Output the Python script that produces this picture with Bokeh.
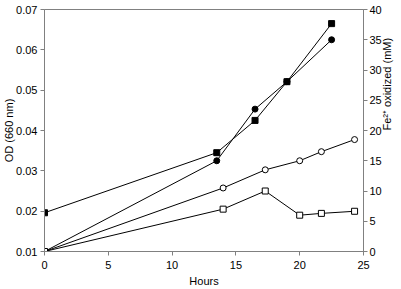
import math
from bokeh.plotting import figure
from bokeh.models import Range1d, LinearAxis, FixedTicker, CustomJSTickFormatter
from bokeh.embed import file_html
from bokeh.resources import INLINE

# OD (660 nm), left axis
od_sq_hours = [0, 13.5, 16.5, 19.0, 22.5]
od_sq_vals = [0.0196, 0.0345, 0.0425, 0.0521, 0.0665]
od_ci_hours = [0, 13.5, 16.5, 19.0, 22.5]
od_ci_vals = [0.0100, 0.0325, 0.0453, 0.0521, 0.0625]

# Fe2+ oxidized (mM), right axis
fe_ci_hours = [0, 14.0, 17.3, 20.0, 21.7, 24.3]
fe_ci_vals = [0.0, 10.5, 13.5, 15.0, 16.5, 18.5]
fe_sq_hours = [0, 14.0, 17.3, 20.0, 21.7, 24.3]
fe_sq_vals = [0.0, 7.0, 10.0, 6.0, 6.3, 6.65]

x_ticks = [0, 5, 10, 15, 20, 25]
od_ticks = [0.01, 0.02, 0.03, 0.04, 0.05, 0.06, 0.07]
fe_ticks = [0, 5, 10, 15, 20, 25, 30, 35, 40]

x_label = "Hours"
left_label = "OD (660 nm)"
right_label = "Fe²⁺ oxidized (mM)"

FONT = "Liberation Sans"
AX = "#808080"

p = figure(width=401, height=289, output_backend="svg", toolbar_location=None,
           x_range=Range1d(0, 25), y_range=Range1d(0.01, 0.07),
           min_border_left=44, min_border_right=36, min_border_top=9, min_border_bottom=37)
p.extra_y_ranges = {"fe": Range1d(0, 40)}
p.grid.visible = False
p.outline_line_color = AX
p.background_fill_color = "white"
p.border_fill_color = "white"

p.xaxis.ticker = FixedTicker(ticks=x_ticks)
p.yaxis.ticker = FixedTicker(ticks=od_ticks)
p.yaxis.formatter = CustomJSTickFormatter(code="return tick.toFixed(2);")
p.xaxis.axis_label = x_label
p.yaxis.axis_label = left_label

ra = LinearAxis(y_range_name="fe", ticker=FixedTicker(ticks=fe_ticks), axis_label=right_label)
p.add_layout(ra, "right")
if "axis_label_orientation" in ra.properties():
    ra.axis_label_orientation = math.pi / 2

for ax in [p.xaxis[0], p.yaxis[0], ra]:
    ax.axis_line_color = AX
    ax.major_tick_line_color = AX
    ax.minor_tick_line_color = None
    ax.major_tick_in = 0
    ax.major_tick_out = 4
    ax.major_label_text_font = FONT
    ax.major_label_text_font_size = "11px"
    ax.major_label_text_color = "black"
    ax.major_label_standoff = 3
    ax.axis_label_text_font = FONT
    ax.axis_label_text_font_size = "11px"
    ax.axis_label_text_font_style = "normal"
    ax.axis_label_text_color = "black"
p.xaxis[0].major_label_standoff = 5
p.xaxis[0].axis_label_standoff = 3
p.yaxis[0].axis_label_standoff = -2
ra.major_label_standoff = 2
ra.axis_label_standoff = 2

lw = 1
p.line(od_sq_hours, od_sq_vals, line_color="black", line_width=lw)
p.line(od_ci_hours, od_ci_vals, line_color="black", line_width=lw)
p.line(fe_ci_hours, fe_ci_vals, line_color="black", line_width=lw, y_range_name="fe")
p.line(fe_sq_hours, fe_sq_vals, line_color="black", line_width=lw, y_range_name="fe")

p.scatter(od_sq_hours, od_sq_vals, marker="square", size=6, fill_color="black", line_color="black")
p.scatter(od_ci_hours, od_ci_vals, marker="circle", size=6, fill_color="black", line_color="black")
p.scatter(fe_ci_hours, fe_ci_vals, marker="circle", size=6, fill_color="white", line_color="black", y_range_name="fe")
p.scatter(fe_sq_hours, fe_sq_vals, marker="square", size=6, fill_color="white", line_color="black", y_range_name="fe")

open("out.html", "w").write(file_html(p, INLINE))
